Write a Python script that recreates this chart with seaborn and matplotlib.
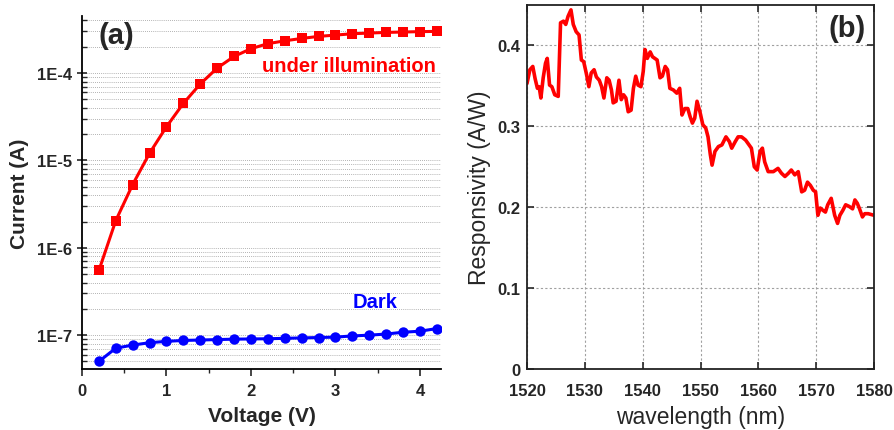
import numpy as np
import pandas as pd
import matplotlib
matplotlib.use("Agg")
import matplotlib.pyplot as plt
import matplotlib.ticker as mticker
import seaborn as sns

# ---------------- data ----------------
voltage = [0.2, 0.4, 0.6, 0.8, 1.0, 1.2, 1.4, 1.6, 1.8, 2.0, 2.2,
           2.4, 2.6, 2.8, 3.0, 3.2, 3.4, 3.6, 3.8, 4.0, 4.2]
current_light = [5.5e-7, 2.05e-6, 5.3e-6, 1.21e-5, 2.43e-5, 4.5e-5, 7.5e-5,
                 1.14e-4, 1.55e-4, 1.9e-4, 2.17e-4, 2.34e-4, 2.49e-4, 2.63e-4,
                 2.72e-4, 2.82e-4, 2.87e-4, 2.92e-4, 2.95e-4, 2.98e-4, 3.0e-4]
current_dark = [5.0e-8, 7.1e-8, 7.7e-8, 8.2e-8, 8.5e-8, 8.7e-8, 8.8e-8,
                8.9e-8, 9.0e-8, 9.05e-8, 9.1e-8, 9.2e-8, 9.3e-8, 9.4e-8,
                9.5e-8, 9.8e-8, 1.0e-7, 1.03e-7, 1.08e-7, 1.11e-7, 1.19e-7]

wavelength = [1520.0, 1520.5, 1521.0, 1521.4, 1521.8, 1522.1, 1522.4, 1522.8,
              1523.2, 1523.5, 1523.9, 1524.3, 1524.8, 1525.4, 1525.8, 1526.3,
              1526.7, 1527.1, 1527.6, 1528.0, 1528.5, 1529.0, 1529.4, 1529.8,
              1530.3, 1530.7, 1531.1, 1531.6, 1532.0, 1532.5, 1532.9, 1533.3,
              1533.8, 1534.2, 1534.6, 1534.9, 1535.4, 1535.9, 1536.3, 1536.7,
              1537.1, 1537.5, 1538.0, 1538.4, 1538.8, 1539.2, 1539.7, 1540.1,
              1540.4, 1540.8, 1541.3, 1541.7, 1542.1, 1542.5, 1543.0, 1543.4,
              1543.9, 1544.3, 1544.7, 1545.3, 1545.9, 1546.4, 1546.8, 1547.3,
              1547.8, 1548.2, 1548.6, 1549.0, 1549.4, 1549.9, 1550.4, 1550.9,
              1551.3, 1551.7, 1552.0, 1552.5, 1553.1, 1553.7, 1554.4, 1555.0,
              1555.4, 1556.0, 1556.5, 1557.1, 1557.8, 1558.4, 1558.8, 1559.3,
              1559.8, 1560.3, 1560.7, 1561.1, 1561.7, 1562.6, 1563.4, 1564.0,
              1564.6, 1565.2, 1565.7, 1566.3, 1566.9, 1567.5, 1568.0, 1568.5,
              1569.0, 1569.5, 1569.9, 1570.3, 1570.7, 1571.2, 1571.6, 1572.0,
              1572.6, 1573.2, 1573.7, 1574.1, 1574.6, 1575.1, 1575.7, 1576.3,
              1576.7, 1577.1, 1577.5, 1578.0, 1578.4, 1579.0, 1580.0]
responsivity = [0.353, 0.370, 0.374, 0.359, 0.347, 0.349, 0.335, 0.360,
                0.378, 0.384, 0.351, 0.349, 0.339, 0.337, 0.428, 0.430,
                0.426, 0.436, 0.444, 0.426, 0.417, 0.413, 0.382, 0.380,
                0.364, 0.349, 0.366, 0.370, 0.361, 0.357, 0.349, 0.335,
                0.360, 0.357, 0.345, 0.329, 0.331, 0.357, 0.333, 0.339,
                0.335, 0.318, 0.320, 0.347, 0.362, 0.351, 0.349, 0.368,
                0.395, 0.384, 0.392, 0.386, 0.384, 0.382, 0.360, 0.362,
                0.374, 0.370, 0.347, 0.345, 0.341, 0.347, 0.314, 0.322,
                0.322, 0.312, 0.304, 0.310, 0.331, 0.318, 0.302, 0.298,
                0.287, 0.265, 0.252, 0.269, 0.275, 0.277, 0.287, 0.281,
                0.273, 0.281, 0.287, 0.287, 0.283, 0.277, 0.273, 0.250,
                0.246, 0.269, 0.273, 0.256, 0.244, 0.244, 0.248, 0.242,
                0.238, 0.242, 0.246, 0.240, 0.244, 0.219, 0.221, 0.231,
                0.227, 0.221, 0.219, 0.190, 0.199, 0.196, 0.194, 0.203,
                0.211, 0.190, 0.180, 0.190, 0.196, 0.203, 0.201, 0.198,
                0.209, 0.205, 0.198, 0.188, 0.192, 0.192, 0.190]

y_ticks_a = [1e-7, 1e-6, 1e-5, 1e-4]
y_ticklabels_a = ["1E-7", "1E-6", "1E-5", "1E-4"]
x_ticks_a = [0, 1, 2, 3, 4]
x_ticks_b = [1520, 1530, 1540, 1550, 1560, 1570, 1580]
y_ticks_b = [0, 0.1, 0.2, 0.3, 0.4]
y_ticklabels_b = ["0", "0.1", "0.2", "0.3", "0.4"]

# ---------------- style ----------------
sns.set_theme(style="white")
plt.rcParams["font.family"] = ["Liberation Sans", "DejaVu Sans"]

fig = plt.figure(figsize=(8.95, 4.31), dpi=100)
axA = fig.add_axes([82 / 895, 1 - 370 / 431, (441 - 82) / 895, (370 - 17) / 431])
axB = fig.add_axes([527 / 895, 1 - 370 / 431, (874 - 527) / 895, (370 - 6) / 431])

# ---------------- panel (a) ----------------
dfa = pd.DataFrame({"V": voltage, "light": current_light, "dark": current_dark})
sns.lineplot(data=dfa, x="V", y="light", ax=axA, color="#ff0000", marker="s",
             markersize=7, markeredgewidth=0, linewidth=2.2)
sns.lineplot(data=dfa, x="V", y="dark", ax=axA, color="#0000ff", marker="o",
             markersize=7.5, markeredgewidth=0, linewidth=2.2)
axA.set_yscale("log")
axA.set_ylim(4.1e-8, 4.5e-4)
axA.set_xlim(0, 4.25)
axA.set_yticks(y_ticks_a)
axA.set_yticklabels(y_ticklabels_a)
axA.yaxis.set_minor_locator(mticker.LogLocator(base=10, subs=np.arange(2, 10)))
axA.yaxis.set_minor_formatter(mticker.NullFormatter())
axA.set_xticks(x_ticks_a)
axA.xaxis.set_minor_locator(mticker.MultipleLocator(0.5))
axA.grid(True, which="both", axis="y", color="#9a9a9a", linestyle=(0, (1, 1.5)), linewidth=0.6)
axA.grid(False, axis="x")
for s in ["top", "right"]:
    axA.spines[s].set_visible(False)
for s in ["left", "bottom"]:
    axA.spines[s].set_color("black")
    axA.spines[s].set_linewidth(1.3)
axA.tick_params(axis="y", which="major", direction="inout", length=7, width=1.2,
                labelsize=12, left=True)
axA.tick_params(axis="y", which="minor", direction="in", length=3.5, width=1.0, left=True)
axA.tick_params(axis="x", which="major", direction="out", length=5, width=1.2,
                labelsize=12, bottom=True, pad=5)
axA.tick_params(axis="x", which="minor", direction="out", length=3, width=1.0, bottom=True)
for lab in axA.get_xticklabels() + axA.get_yticklabels():
    lab.set_fontweight("bold")
axA.set_xlabel("Voltage (V)", fontsize=15, fontweight="bold", labelpad=6)
axA.set_ylabel("Current (A)", fontsize=15, fontweight="bold", labelpad=6)
axA.text(0.045, 0.985, "(a)", transform=axA.transAxes, fontsize=21, fontweight="bold",
         ha="left", va="top")
axA.text(0.985, 0.86, "under illumination", transform=axA.transAxes, fontsize=14.5,
         fontweight="bold", color="#ff0000", ha="right", va="center")
axA.text(0.88, 0.19, "Dark", transform=axA.transAxes, fontsize=14.5,
         fontweight="bold", color="#0000ff", ha="right", va="center")

# ---------------- panel (b) ----------------
dfb = pd.DataFrame({"wl": wavelength, "R": responsivity})
sns.lineplot(data=dfb, x="wl", y="R", ax=axB, color="#ff0000", linewidth=2.6)
axB.set_xlim(1520, 1580)
axB.set_ylim(0, 0.45)
axB.set_xticks(x_ticks_b)
axB.set_yticks(y_ticks_b)
axB.set_yticklabels(y_ticklabels_b)
axB.grid(True, color="#a0a0a0", linestyle=(0, (2, 2)), linewidth=0.8)
for s in axB.spines.values():
    s.set_visible(True)
    s.set_color("#222222")
    s.set_linewidth(1.3)
axB.tick_params(axis="both", which="major", direction="in", length=5, width=1.2,
                labelsize=12, top=True, right=True, bottom=True, left=True)
axB.tick_params(axis="x", which="major", pad=10)
axB.tick_params(axis="y", which="major", pad=5)
for lab in axB.get_xticklabels() + axB.get_yticklabels():
    lab.set_fontweight("bold")
axB.set_xlabel("wavelength (nm)", fontsize=16.5, labelpad=5)
axB.set_ylabel("Responsivity (A/W)", fontsize=16.5, labelpad=4)
axB.text(0.975, 0.975, "(b)", transform=axB.transAxes, fontsize=21, fontweight="bold",
         ha="right", va="top")

fig.savefig("out.png", dpi=100, facecolor="white")
